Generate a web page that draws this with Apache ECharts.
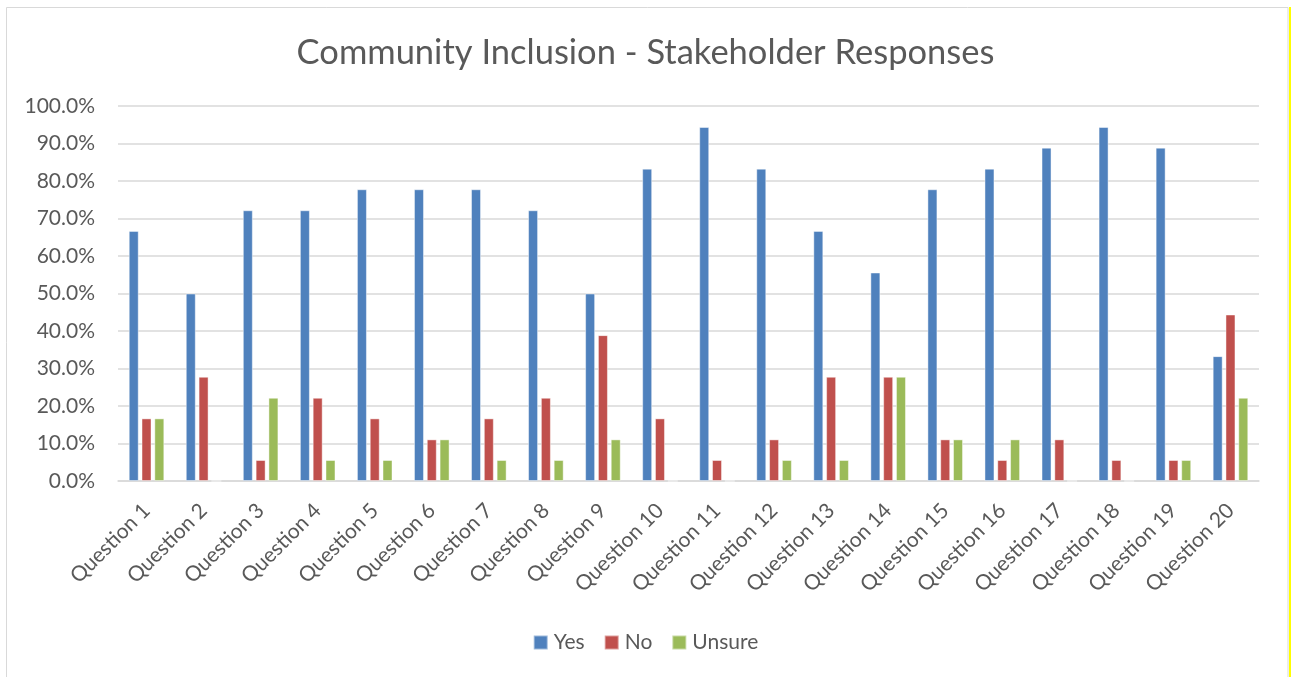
<!DOCTYPE html>
<html>
<head>
<meta charset="utf-8">
<script src="https://cdn.jsdelivr.net/npm/echarts@6/dist/echarts.min.js"></script>
<style>
  html, body { margin: 0; padding: 0; background: #ffffff; }
  #chart { width: 1291px; height: 677px; }
</style>
</head>
<body>
<div id="chart"></div>
<script>
const categories = ['Question 1', 'Question 2', 'Question 3', 'Question 4', 'Question 5',
  'Question 6', 'Question 7', 'Question 8', 'Question 9', 'Question 10',
  'Question 11', 'Question 12', 'Question 13', 'Question 14', 'Question 15',
  'Question 16', 'Question 17', 'Question 18', 'Question 19', 'Question 20'];

const yes    = [66.7, 50.0, 72.2, 72.2, 77.8, 77.8, 77.8, 72.2, 50.0, 83.3, 94.4, 83.3, 66.7, 55.6, 77.8, 83.3, 88.9, 94.4, 88.9, 33.3];
const no     = [16.7, 27.8, 5.6, 22.2, 16.7, 11.1, 16.7, 22.2, 38.9, 16.7, 5.6, 11.1, 27.8, 27.8, 11.1, 5.6, 11.1, 5.6, 5.6, 44.4];
const unsure = [16.7, 0, 22.2, 5.6, 5.6, 11.1, 5.6, 5.6, 11.1, 0, 0, 5.6, 5.6, 27.8, 11.1, 11.1, 0, 0, 5.6, 22.2];

const seriesNames = ['Yes', 'No', 'Unsure'];
const seriesColors = ['#4F81BD', '#C0504D', '#9BBB59'];

const FONT = 'Lato, "Open Sans", sans-serif';
const TEXT = '#595959';

const chart = echarts.init(document.getElementById('chart'), null, { renderer: 'canvas' });

function barSeries(name, data, color) {
  return {
    name: name,
    type: 'bar',
    data: data,
    barWidth: 10,
    barGap: '28%',
    itemStyle: { color: color, borderColor: 'rgba(255,255,255,0.45)', borderWidth: 1 },
    emphasis: { disabled: true }
  };
}

chart.setOption({
  animation: false,
  backgroundColor: '#ffffff',
  graphic: [
    {
      type: 'rect',
      shape: { x: 6.5, y: 7.5, width: 1281.5, height: 680 },
      style: { fill: 'none', stroke: '#d9d9d9', lineWidth: 1 },
      silent: true
    },
    {
      type: 'rect',
      shape: { x: 1289, y: 7, width: 2.5, height: 670 },
      style: { fill: '#ffff00' },
      silent: true
    }
  ],
  title: {
    text: 'Community Inclusion - Stakeholder Responses',
    left: 'center',
    top: 30,
    textStyle: { fontFamily: FONT, fontSize: 34.5, fontWeight: 'normal', color: TEXT }
  },
  legend: {
    data: seriesNames,
    top: 627,
    left: 'center',
    itemWidth: 14,
    itemHeight: 14,
    itemGap: 19,
    icon: 'rect',
    textStyle: { fontFamily: FONT, fontSize: 21, color: TEXT, padding: [0, 0, 0, 1] }
  },
  grid: { left: 118, right: 32, top: 106, bottom: 196, containLabel: false },
  xAxis: {
    type: 'category',
    data: categories,
    axisLine: { show: true, lineStyle: { color: '#d9d9d9', width: 1.5 } },
    axisTick: { show: false },
    axisLabel: {
      rotate: 45,
      interval: 0,
      margin: 26,
      fontFamily: FONT,
      fontSize: 21,
      color: TEXT
    }
  },
  yAxis: {
    type: 'value',
    min: 0,
    max: 100,
    interval: 10,
    axisLine: { show: false },
    axisTick: { show: false },
    splitLine: { lineStyle: { color: '#d9d9d9', width: 1.5 } },
    axisLabel: {
      margin: 23,
      fontFamily: FONT,
      fontSize: 21,
      color: TEXT,
      formatter: v => v.toFixed(1) + '%'
    }
  },
  series: [
    barSeries(seriesNames[0], yes, seriesColors[0]),
    barSeries(seriesNames[1], no, seriesColors[1]),
    barSeries(seriesNames[2], unsure, seriesColors[2])
  ]
});
</script>
</body>
</html>
